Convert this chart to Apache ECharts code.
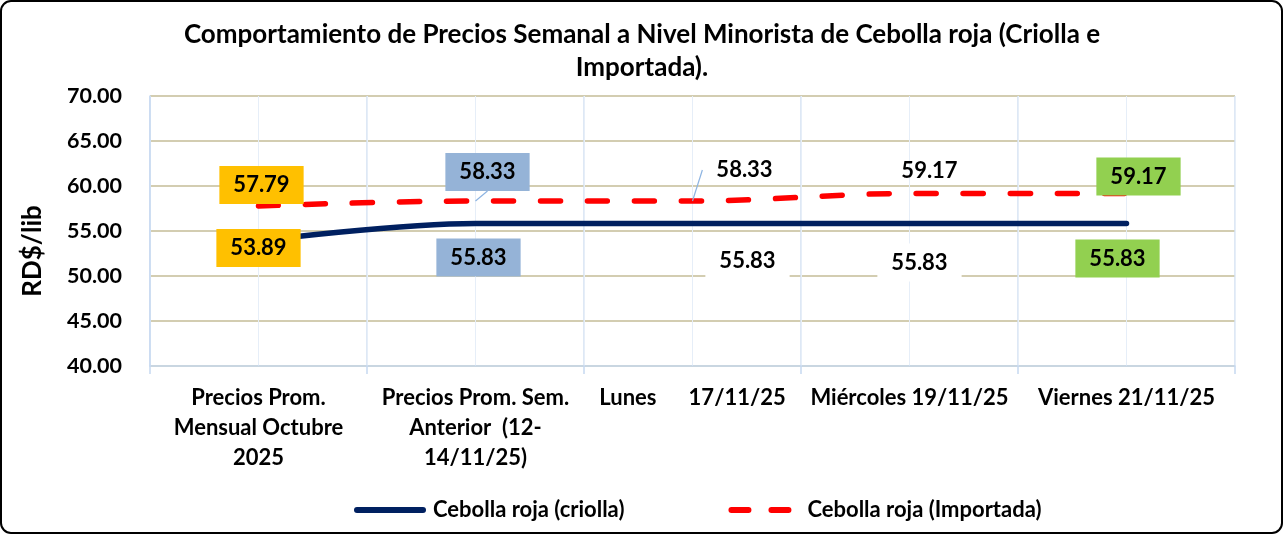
<!DOCTYPE html>
<html>
<head>
<meta charset="utf-8">
<script src="https://cdn.jsdelivr.net/npm/echarts@6/dist/echarts.min.js"></script>
<style>
html,body{margin:0;padding:0;background:#fff;}
#c{width:1284px;height:535px;}
</style>
</head>
<body>
<div id="c"></div>
<script>
const categories = [
  'Precios Prom.\nMensual Octubre\n2025',
  'Precios Prom. Sem.\nAnterior  (12-\n14/11/25)',
  'Lunes      17/11/25',
  'Miércoles 19/11/25',
  'Viernes 21/11/25'
];
const criolla = [53.89, 55.83, 55.83, 55.83, 55.83];
const importada = [57.79, 58.33, 58.33, 59.17, 59.17];
const yTicks = [40, 45, 50, 55, 60, 65, 70];

const FONT = 'Lato';
const criollaBg = ['#ffc000', '#95b3d7', '#ffffff', '#ffffff', '#92d050'];
const importBg = ['#ffc000', '#95b3d7', 'transparent', 'transparent', '#92d050'];
const criollaOff = [[0, 7], [3, 34], [55, 37], [10, 39], [-9, 35]];
const importOff = [[3, -21], [12, -29], [52, -31], [20, -23], [12, -17]];
const importLeader = [false, true, true, false, false];

function items(vals, bgs, leaders) {
  return vals.map((v, i) => ({
    value: v,
    label: { backgroundColor: bgs[i] },
    labelLine: { show: !!(leaders && leaders[i]) }
  }));
}

const chart = echarts.init(document.getElementById('c'), null, {renderer: 'canvas'});
const labelBase = {
  show: true,
  position: 'inside',
  formatter: p => p.value.toFixed(2),
  color: '#000',
  opacity: 1,
  fontFamily: FONT,
  fontWeight: 'bold',
  fontSize: 22,
  lineHeight: 22,
  padding: [8, 14]
};

chart.setOption({
  animation: false,
  backgroundColor: '#ffffff',
  title: {
    text: 'Comportamiento de Precios Semanal a Nivel Minorista de Cebolla roja (Criolla e\nImportada).',
    left: 'center',
    top: 13,
    textStyle: { fontFamily: FONT, fontWeight: 'bold', fontSize: 26, lineHeight: 33, color: '#000' }
  },
  graphic: [{
    type: 'rect',
    shape: { x: 1, y: 1, width: 1281, height: 532, r: 10 },
    style: { fill: 'none', stroke: '#000', lineWidth: 2 },
    silent: true
  }],
  legend: {
    left: 349,
    top: 494,
    itemWidth: 66,
    itemHeight: 14,
    itemGap: 104,
    itemStyle: { opacity: 0 },
    textStyle: { fontFamily: FONT, fontWeight: 'bold', fontSize: 22, color: '#000', padding: [0, 0, 0, 5] },
    data: [
      { name: 'Cebolla roja (criolla)', lineStyle: { width: 6, cap: 'round' } },
      { name: 'Cebolla roja (Importada)', lineStyle: { width: 6, type: [17, 23], cap: 'round' } }
    ]
  },
  grid: { left: 150, right: 49, top: 96, bottom: 169, containLabel: false },
  xAxis: [{
    type: 'category',
    data: categories,
    boundaryGap: true,
    axisLine: { lineStyle: { color: '#c6d9f1', width: 1.5 } },
    axisTick: { show: true, length: 8, lineStyle: { color: '#c6d9f1', width: 1.5 } },
    splitLine: { show: true, lineStyle: { color: '#d3e1f2', width: 1.5 } },
    axisLabel: { fontFamily: FONT, fontWeight: 'bold', fontSize: 22, lineHeight: 30, color: '#000', margin: 17, interval: 0 }
  }, {
    type: 'value',
    min: 0, max: 10, interval: 1,
    position: 'top',
    axisLine: { show: false }, axisTick: { show: false }, axisLabel: { show: false },
    splitLine: { show: true, lineStyle: { color: '#e6eef8', width: 1 } }
  }],
  yAxis: {
    type: 'value',
    min: yTicks[0], max: yTicks[yTicks.length - 1], interval: yTicks[1] - yTicks[0],
    name: 'RD$/lib',
    nameLocation: 'middle',
    nameRotate: 90,
    nameGap: 104,
    nameTextStyle: { fontFamily: FONT, fontWeight: 'bold', fontSize: 26, color: '#000', padding: [0, 40, 0, 0] },
    axisLine: { show: true, lineStyle: { color: '#c6d9f1', width: 1.5 } },
    axisTick: { show: false },
    splitLine: { lineStyle: { color: '#c4bd97', width: 1.5 } },
    axisLabel: { fontFamily: FONT, fontWeight: 'bold', fontSize: 21.5, color: '#000', margin: 28, formatter: v => v.toFixed(2) }
  },
  series: [{
    name: 'Cebolla roja (criolla)',
    type: 'line',
    smooth: 0.35,
    symbol: 'circle',
    symbolSize: 0.01,
    showSymbol: true,
    xAxisIndex: 0,
    data: items(criolla, criollaBg, null),
    lineStyle: { color: '#002060', width: 5.5, cap: 'round' },
    itemStyle: { color: '#002060' },
    label: labelBase,
    labelLayout: p => ({ dx: criollaOff[p.dataIndex][0], dy: criollaOff[p.dataIndex][1] }),
    z: 3
  }, {
    name: 'Cebolla roja (Importada)',
    type: 'line',
    smooth: 0.35,
    symbol: 'circle',
    symbolSize: 0.01,
    showSymbol: true,
    xAxisIndex: 0,
    data: items(importada, importBg, importLeader),
    lineStyle: { color: '#ff0000', width: 5.5, type: [20, 27], cap: 'round' },
    itemStyle: { color: '#ff0000' },
    label: labelBase,
    labelLine: { show: false, lineStyle: { color: '#8db4e2', width: 1.2 } },
    labelLayout: p => ({ dx: importOff[p.dataIndex][0], dy: importOff[p.dataIndex][1] }),
    z: 3
  }]
});
</script>
</body>
</html>
